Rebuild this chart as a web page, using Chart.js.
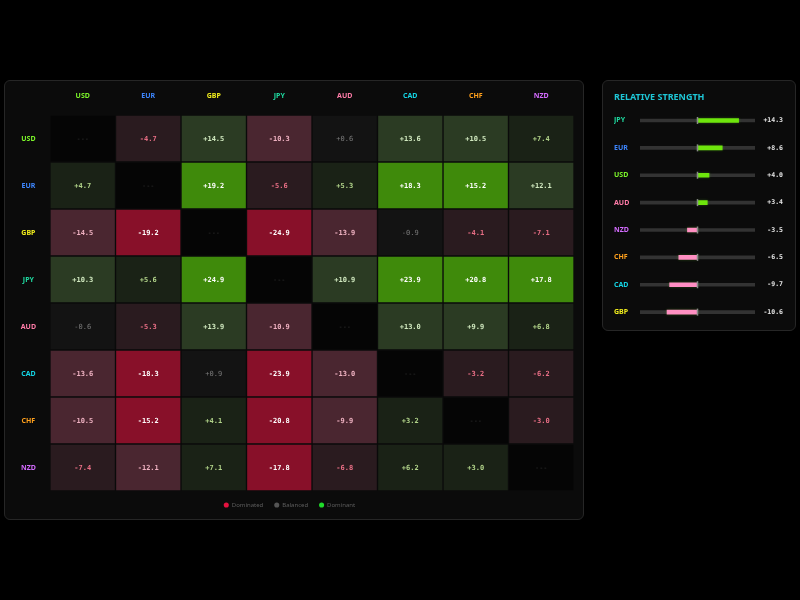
<!DOCTYPE html>
<html>
<head>
<meta charset="utf-8">
<script src="https://cdn.jsdelivr.net/npm/chart.js@4.4.1/dist/chart.umd.min.js"></script>
<style>
  html, body { margin: 0; padding: 0; background: #000; width: 800px; height: 600px; overflow: hidden; }
  .card { position: absolute; box-sizing: border-box; background: #0b0b0b; border: 1px solid #262626; border-radius: 6px; }
  #matrixCard { left: 4px; top: 80px; width: 580px; height: 440px; }
  #strengthCard { left: 602px; top: 80px; width: 194px; height: 251px; }
  .card div { position: relative; width: 100%; height: 100%; }
</style>
</head>
<body>
<div class="card" id="matrixCard"><div><canvas id="matrix"></canvas></div></div>
<div class="card" id="strengthCard"><div><canvas id="strength"></canvas></div></div>
<script>
(function app() {

    // currencies, in matrix order (rows = base, columns = quote)
    const currencies = ['USD', 'EUR', 'GBP', 'JPY', 'AUD', 'CAD', 'CHF', 'NZD'];
    const currencyColors = ['#7cf52a', '#3d86ff', '#f2ee1c', '#1fdca2', '#ff7ca8', '#14d4e4', '#ffa01c', '#d46cff'];

    // pair strength, one row per base currency (null = same currency)
    const usdRow = [null, -4.7, 14.5, -10.3, 0.6, 13.6, 10.5, 7.4];
    const eurRow = [4.7, null, 19.2, -5.6, 5.3, 18.3, 15.2, 12.1];
    const gbpRow = [-14.5, -19.2, null, -24.9, -13.9, -0.9, -4.1, -7.1];
    const jpyRow = [10.3, 5.6, 24.9, null, 10.9, 23.9, 20.8, 17.8];
    const audRow = [-0.6, -5.3, 13.9, -10.9, null, 13.0, 9.9, 6.8];
    const cadRow = [-13.6, -18.3, 0.9, -23.9, -13.0, null, -3.2, -6.2];
    const chfRow = [-10.5, -15.2, 4.1, -20.8, -9.9, 3.2, null, -3.0];
    const nzdRow = [-7.4, -12.1, 7.1, -17.8, -6.8, 6.2, 3.0, null];
    const matrix = [usdRow, eurRow, gbpRow, jpyRow, audRow, cadRow, chfRow, nzdRow];

    // relative strength panel
    const strengthLabels = ['JPY', 'EUR', 'USD', 'AUD', 'NZD', 'CHF', 'CAD', 'GBP'];
    const strengthValues = [14.3, 8.6, 4.0, 3.4, -3.5, -6.5, -9.7, -10.6];
    const strengthRange = [-20, 20];

    const legendItems = ['Dominated', 'Balanced', 'Dominant'];
    const legendColors = ['#e5123f', '#555555', '#1fdc2a'];

    Chart.defaults.font.family = "'Noto Sans', sans-serif";
    Chart.defaults.animation = false;

    const greenFill = ['#131313', '#1a2216', '#2b3b23', '#3f8a0b'];
    const redFill = ['#131313', '#2a1b1f', '#4a2630', '#881029'];
    const greenText = ['#7a7a7a', '#b2d48a', '#d2eac0', '#ffffff'];
    const redText = ['#7a7a7a', '#ea6f86', '#f0b2c2', '#ffffff'];

    function level(v) {
        const a = Math.abs(v);
        if (a < 2) return 0;
        if (a < 8) return 1;
        if (a < 15) return 2;
        return 3;
    }

    function cellFill(v) {
        if (v === null) return '#050505';
        return v >= 0 ? greenFill[level(v)] : redFill[level(v)];
    }

    function cellText(v) {
        if (v === null) return '#363636';
        return v >= 0 ? greenText[level(v)] : redText[level(v)];
    }

    function formatValue(v) {
        if (v === null) return '---';
        return (v > 0 ? '+' : '') + v.toFixed(1);
    }

    const cellLabels = {
        id: 'cellLabels',
        afterDatasetsDraw(chart) {
            const ctx = chart.ctx;
            ctx.save();
            ctx.textAlign = 'center';
            ctx.textBaseline = 'middle';
            chart.data.datasets.forEach((ds, j) => {
                chart.getDatasetMeta(j).data.forEach((el, i) => {
                    const v = matrix[i][j];
                    const p = el.getCenterPoint();
                    ctx.font = (v !== null && level(v) > 0 ? 'bold ' : '') + "7px 'DejaVu Sans Mono', monospace";
                    ctx.fillStyle = cellText(v);
                    ctx.fillText(formatValue(v), p.x, p.y + 0.5);
                });
            });
            ctx.restore();
        }
    };

    new Chart(document.getElementById('matrix'), {
        type: 'bar',
        data: {
            labels: currencies,
            datasets: currencies.map((quote, j) => ({
                label: quote,
                data: matrix.map((row, i) => ({ x: [j, j + 1], y: currencies[i] })),
                backgroundColor: matrix.map(row => cellFill(row[j])),
                borderColor: '#0b0b0b',
                borderWidth: 1,
                borderSkipped: false,
                grouped: false,
                barPercentage: 1,
                categoryPercentage: 1
            }))
        },
        options: {
            indexAxis: 'y',
            responsive: true,
            maintainAspectRatio: false,
            layout: { padding: { left: 0, right: 9, top: 0, bottom: 1 } },
            plugins: {
                tooltip: { enabled: false },
                legend: {
                    position: 'bottom',
                    onClick: null,
                    labels: {
                        usePointStyle: true,
                        boxWidth: 5,
                        boxHeight: 3.6,
                        padding: 11,
                        color: '#5e5e5e',
                        font: { size: 6 },
                        generateLabels: () => legendItems.map((text, k) => ({
                            text: text,
                            fillStyle: legendColors[k],
                            strokeStyle: legendColors[k],
                            lineWidth: 0,
                            pointStyle: 'circle',
                            fontColor: '#5e5e5e',
                            hidden: false
                        }))
                    }
                }
            },
            scales: {
                x: {
                    type: 'linear',
                    position: 'top',
                    min: 0,
                    max: currencies.length,
                    afterBuildTicks: axis => {
                        axis.ticks = currencies.map((c, i) => ({ value: i + 0.5 }));
                    },
                    afterFit: axis => { axis.height = 34; },
                    grid: { display: false, drawTicks: false },
                    border: { display: false },
                    ticks: {
                        autoSkip: false,
                        maxRotation: 0,
                        padding: 15,
                        font: { size: 7, weight: 'bold' },
                        color: ctx => currencyColors[ctx.index],
                        callback: (value, index) => currencies[index]
                    }
                },
                y: {
                    type: 'category',
                    afterFit: axis => { axis.width = 45; },
                    grid: { display: false, drawTicks: false },
                    border: { display: false },
                    ticks: {
                        crossAlign: 'center',
                        padding: 14,
                        font: { size: 7, weight: 'bold' },
                        color: ctx => currencyColors[ctx.index]
                    }
                }
            }
        },
        plugins: [cellLabels]
    });

    // strength bars
    const zeroMarks = {
        id: 'zeroMarks',
        afterDatasetsDraw(chart) {
            const ctx = chart.ctx;
            const x0 = chart.scales.x.getPixelForValue(0);
            ctx.save();
            ctx.strokeStyle = '#8a8a8a';
            ctx.lineWidth = 1.5;
            chart.getDatasetMeta(0).data.forEach(el => {
                ctx.beginPath();
                ctx.moveTo(x0, el.y - 3.5);
                ctx.lineTo(x0, el.y + 3.5);
                ctx.stroke();
            });
            ctx.restore();
        }
    };

    const barGlow = {
        id: 'barGlow',
        beforeDatasetDraw(chart, args) {
            if (args.index === 0) {
                chart.ctx.save();
                chart.ctx.shadowColor = 'rgba(120, 255, 40, 0.25)';
                chart.ctx.shadowBlur = 3;
            }
        },
        afterDatasetDraw(chart, args) {
            if (args.index === 0) chart.ctx.restore();
        }
    };

    new Chart(document.getElementById('strength'), {
        type: 'bar',
        data: {
            labels: strengthLabels,
            datasets: [{
                label: 'strength',
                data: strengthValues.map(v => [0, v]),
                backgroundColor: strengthValues.map(v => v >= 0 ? '#6ee60c' : '#ff8fc2'),
                barThickness: 4,
                borderWidth: 0,
                grouped: false,
                order: 0
            }, {
                label: 'track',
                data: strengthValues.map(() => strengthRange),
                backgroundColor: '#333333',
                barThickness: 3,
                borderWidth: 0,
                grouped: false,
                order: 1
            }]
        },
        options: {
            indexAxis: 'y',
            responsive: true,
            maintainAspectRatio: false,
            layout: { padding: { left: 11, right: 12, top: 4, bottom: 3 } },
            plugins: {
                tooltip: { enabled: false },
                legend: { display: false },
                title: {
                    display: true,
                    text: 'RELATIVE STRENGTH',
                    align: 'start',
                    color: '#1ec6d6',
                    font: { size: 9, weight: 'bold' },
                    padding: { top: 7, bottom: 4 }
                }
            },
            scales: {
                x: {
                    display: false,
                    min: strengthRange[0],
                    max: strengthRange[1]
                },
                y: {
                    afterFit: axis => { axis.width = 26; },
                    grid: { display: false, drawTicks: false },
                    border: { display: false },
                    ticks: {
                        crossAlign: 'far',
                        padding: 0,
                        font: { size: 7, weight: 'bold' },
                        color: ctx => currencyColors[currencies.indexOf(strengthLabels[ctx.index])]
                    }
                },
                y2: {
                    type: 'category',
                    position: 'right',
                    offset: true,
                    labels: strengthValues.map(v => (v > 0 ? '+' : '') + v.toFixed(1)),
                    afterFit: axis => { axis.width = 28; },
                    grid: { display: false, drawTicks: false },
                    border: { display: false },
                    ticks: {
                        crossAlign: 'far',
                        padding: 0,
                        color: '#e6e6e6',
                        font: { size: 6.5, weight: 'bold', family: "'DejaVu Sans Mono', monospace" }
                    }
                }
            }
        },
        plugins: [zeroMarks, barGlow]
    });
})();
</script>
</body>
</html>
